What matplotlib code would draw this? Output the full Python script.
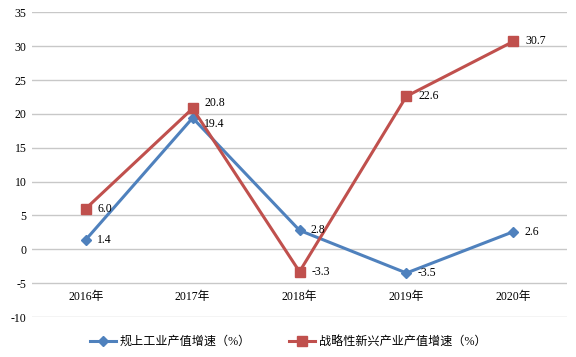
import matplotlib
matplotlib.use('Agg')
import matplotlib.pyplot as plt

plt.rcParams['font.family'] = ['Liberation Serif', 'Noto Sans CJK SC']
plt.rcParams['axes.unicode_minus'] = False

# data
years = ['2016年', '2017年', '2018年', '2019年', '2020年']
industry = [1.4, 19.4, 2.8, -3.5, 2.6]
emerging = [6.0, 20.8, -3.3, 22.6, 30.7]
industry_name = '规上工业产值增速（%）'
emerging_name = '战略性新兴产业产值增速（%）'

blue = '#4F81BD'
red = '#C0504D'

fig = plt.figure(figsize=(5.76, 3.57), dpi=100)
ax = fig.add_axes([0.056, 0.112, 0.928, 0.8535])

x = list(range(len(years)))
ax.plot(x, industry, color=blue, lw=2.2, marker='D', ms=5.5, label=industry_name, zorder=3)
ax.plot(x, emerging, color=red, lw=2.2, marker='s', ms=7, label=emerging_name, zorder=3)

# data labels
for i, v in enumerate(industry):
    dy = -6 if i == 1 else 0
    ax.annotate(f'{v:.1f}', (i, v), xytext=(11, dy), textcoords='offset pixels',
                ha='left', va='center', fontsize=8.5)
for i, v in enumerate(emerging):
    dy = 5 if i == 1 else 0
    ax.annotate(f'{v:.1f}', (i, v), xytext=(12, dy), textcoords='offset pixels',
                ha='left', va='center', fontsize=8.5)

ax.set_xlim(-0.5, 4.5)
ax.set_ylim(-10, 35)
ax.set_yticks(range(-10, 36, 5))
ax.set_xticks(x)
ax.set_xticklabels(years)
ax.grid(axis='y', color='#C8C8C8', lw=1)
ax.set_axisbelow(True)
for s in ['top', 'right', 'left']:
    ax.spines[s].set_visible(False)
ax.spines['bottom'].set_position(('data', -5))
ax.spines['bottom'].set_visible(False)
ax.tick_params(axis='both', length=0, labelsize=8.5)
ax.tick_params(axis='x', pad=6)
ax.tick_params(axis='y', pad=4)

fig.legend(loc='center', bbox_to_anchor=(0.5, 0.042), ncol=2, frameon=False,
           fontsize=8.7, handlelength=2.2, columnspacing=3.1, handletextpad=0.3)

plt.savefig('out.png', dpi=100)
